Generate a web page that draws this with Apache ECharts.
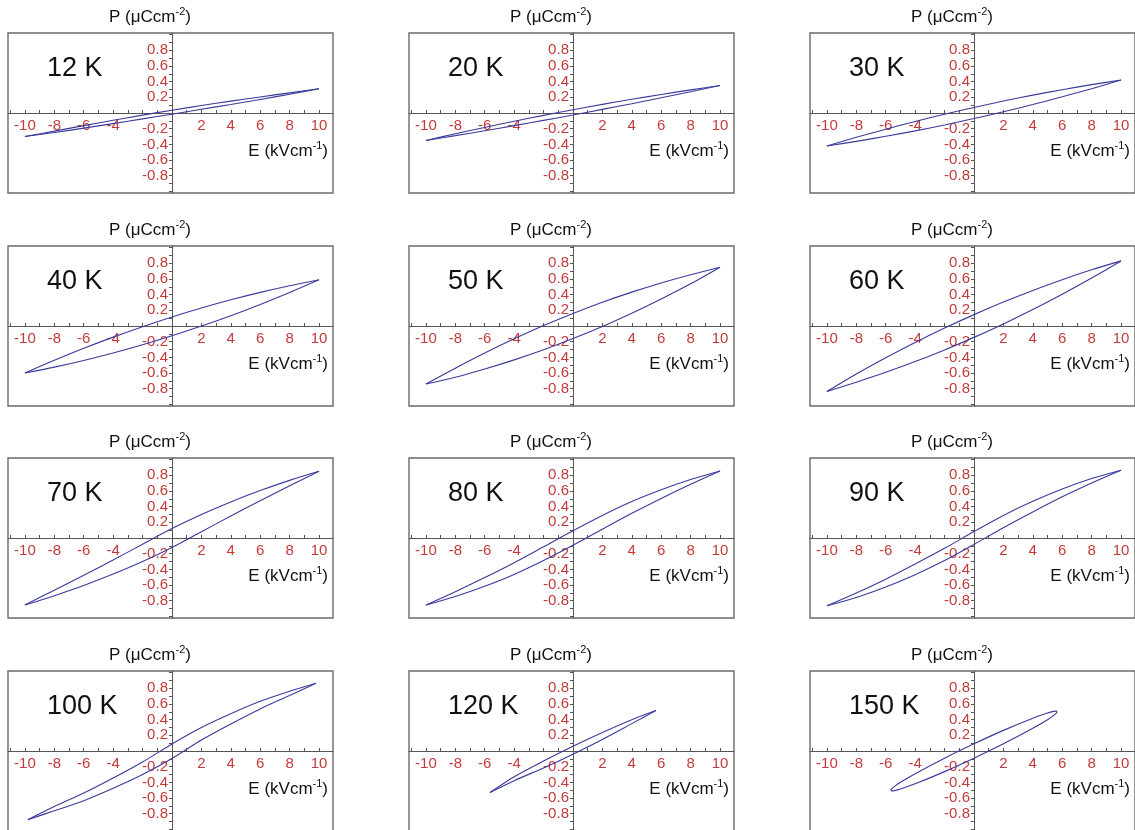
<!DOCTYPE html>
<html>
<head>
<meta charset="utf-8">
<title>P–E hysteresis loops</title>
<script src="https://cdn.jsdelivr.net/npm/echarts@6/dist/echarts.min.js"></script>
<style>
  html, body { margin: 0; padding: 0; background: #ffffff; }
  #chart { width: 1135px; height: 830px; }
</style>
</head>
<body>
<div id="chart"></div>
<script>
// Panel captions (temperature of each P–E measurement)
const temps = ['12 K', '20 K', '30 K', '40 K', '50 K', '60 K',
               '70 K', '80 K', '90 K', '100 K', '120 K', '150 K'];

// Tick labels and tick positions of the field (E) and polarization (P) axes
const eLabels = [-10, -8, -6, -4, 2, 4, 6, 8, 10];
const pLabels = [-0.8, -0.6, -0.4, -0.2, 0.2, 0.4, 0.6, 0.8];
const eTicks = [-11, -10, -9, -8, -7, -6, -5, -4, -3, -2, -1, 1, 2, 3, 4, 5, 6, 7, 8, 9, 10];
const pTicks = [-1.0, -0.9, -0.8, -0.7, -0.6, -0.5, -0.4, -0.3, -0.2, -0.1,
                0.1, 0.2, 0.3, 0.4, 0.5, 0.6, 0.7, 0.8, 0.9, 1.0];

// Loop branches as [E (kV/cm), P (uC/cm2)] pairs.
// "Down" = field swept from +Emax to -Emax, "Up" = from -Emax to +Emax.
const k12Down = [[10,0.31],[8,0.257],[6,0.205],[4,0.151],[2,0.095],[0,0.035],[-2,-0.027],[-4,-0.093],[-6,-0.161],[-8,-0.231],[-10,-0.30]];
const k12Up   = [[-10,-0.30],[-8,-0.249],[-6,-0.193],[-4,-0.135],[-2,-0.075],[0,-0.015],[2,0.047],[4,0.109],[6,0.173],[8,0.239],[10,0.31]];

const k20Down = [[10,0.35],[8,0.295],[6,0.236],[4,0.175],[2,0.11],[0,0.042],[-2,-0.03],[-4,-0.105],[-6,-0.184],[-8,-0.265],[-10,-0.35]];
const k20Up   = [[-10,-0.35],[-8,-0.289],[-6,-0.226],[-4,-0.161],[-2,-0.094],[0,-0.026],[2,0.046],[4,0.119],[6,0.194],[8,0.271],[10,0.35]];

const k30Down = [[10,0.42],[8,0.362],[6,0.297],[4,0.228],[2,0.152],[0,0.071],[-2,-0.016],[-4,-0.108],[-6,-0.207],[-8,-0.31],[-10,-0.42]];
const k30Up   = [[-10,-0.42],[-8,-0.362],[-6,-0.297],[-4,-0.228],[-2,-0.152],[0,-0.071],[2,0.016],[4,0.108],[6,0.207],[8,0.31],[10,0.42]];

const k40Down = [[10,0.59],[8,0.514],[6,0.429],[4,0.334],[2,0.229],[0,0.115],[-2,-0.009],[-4,-0.142],[-6,-0.285],[-8,-0.438],[-10,-0.60]];
const k40Up   = [[-10,-0.60],[-8,-0.524],[-6,-0.439],[-4,-0.344],[-2,-0.239],[0,-0.125],[2,-0.001],[4,0.132],[6,0.275],[8,0.428],[10,0.59]];

const k50Down = [[10,0.75],[8,0.654],[6,0.549],[4,0.432],[2,0.303],[0,0.16],[-2,0.005],[-4,-0.164],[-6,-0.345],[-8,-0.538],[-10,-0.74]];
const k50Up   = [[-10,-0.74],[-8,-0.654],[-6,-0.549],[-4,-0.432],[-2,-0.303],[0,-0.16],[2,-0.005],[4,0.164],[6,0.345],[8,0.538],[10,0.75]];

const k60Down = [[10,0.83],[8,0.716],[6,0.591],[4,0.454],[2,0.305],[0,0.145],[-2,-0.027],[-4,-0.21],[-6,-0.405],[-8,-0.612],[-10,-0.835]];
const k60Up   = [[-10,-0.835],[-8,-0.716],[-6,-0.591],[-4,-0.454],[-2,-0.305],[0,-0.145],[2,0.027],[4,0.21],[6,0.405],[8,0.612],[10,0.83]];

const k70Down = [[10,0.85],[8,0.735],[6,0.605],[4,0.46],[2,0.30],[0,0.12],[-2,-0.08],[-4,-0.28],[-6,-0.475],[-8,-0.665],[-10,-0.855]];
const k70Up   = [[-10,-0.855],[-8,-0.735],[-6,-0.605],[-4,-0.46],[-2,-0.30],[0,-0.12],[2,0.08],[4,0.28],[6,0.475],[8,0.665],[10,0.85]];

const k80Down = [[10,0.855],[8,0.745],[6,0.615],[4,0.465],[2,0.288],[0,0.093],[-2,-0.112],[-4,-0.315],[-6,-0.505],[-8,-0.685],[-10,-0.855]];
const k80Up   = [[-10,-0.855],[-8,-0.745],[-6,-0.615],[-4,-0.465],[-2,-0.288],[0,-0.093],[2,0.112],[4,0.315],[6,0.505],[8,0.685],[10,0.855]];

const k90Down = [[10,0.865],[8,0.758],[6,0.625],[4,0.468],[2,0.288],[0,0.082],[-2,-0.132],[-4,-0.332],[-6,-0.525],[-8,-0.702],[-10,-0.865]];
const k90Up   = [[-10,-0.865],[-8,-0.758],[-6,-0.625],[-4,-0.468],[-2,-0.288],[0,-0.082],[2,0.132],[4,0.332],[6,0.525],[8,0.702],[10,0.865]];

const k100Down = [[9.8,0.865],[8,0.762],[6,0.633],[4,0.475],[2,0.30],[0,0.09],[-2,-0.14],[-4,-0.345],[-6,-0.537],[-8,-0.708],[-9.8,-0.875]];
const k100Up   = [[-9.8,-0.875],[-8,-0.762],[-6,-0.633],[-4,-0.475],[-2,-0.30],[0,-0.095],[2,0.14],[4,0.345],[6,0.537],[8,0.708],[9.8,0.865]];

const k120Down = [[5.64,0.515],[4,0.399],[2,0.236],[0,0.06],[-2,-0.128],[-4,-0.329],[-5.64,-0.53]];
const k120Up   = [[-5.64,-0.53],[-4,-0.379],[-2,-0.216],[0,-0.04],[2,0.148],[4,0.349],[5.64,0.515]];

const k150Down = [[5.65,0.50],[5.6,0.508],[5.4,0.505],[5,0.485],[4,0.419],[2,0.263],[0,0.092],[-2,-0.091],[-4,-0.289],[-5,-0.399],[-5.4,-0.451],[-5.6,-0.484],[-5.65,-0.50]];
const k150Up   = [[-5.65,-0.50],[-5.6,-0.508],[-5.4,-0.505],[-5,-0.485],[-4,-0.419],[-2,-0.263],[0,-0.092],[2,0.091],[4,0.289],[5,0.399],[5.4,0.451],[5.6,0.484],[5.65,0.50]];

const branches = [
  [k12Down, k12Up], [k20Down, k20Up], [k30Down, k30Up],
  [k40Down, k40Up], [k50Down, k50Up], [k60Down, k60Up],
  [k70Down, k70Up], [k80Down, k80Up], [k90Down, k90Up],
  [k100Down, k100Up], [k120Down, k120Up], [k150Down, k150Up]
];

// Panel layout (pixels)
const COL_LEFT = [8, 409, 810];
const ROW_TOP = [33, 246, 458, 671];
const BOX_W = 325, BOX_H = 160;
const E_MIN = -11.15, E_MAX = 10.95, P_MIN = -1.02, P_MAX = 1.02;

const FONT = '"Liberation Sans", Arial, Helvetica, sans-serif';
const TICK_RED = '#c43a3a';
const LOOP_BLUE = '#3a3a9c';
const AXIS_GREY = '#555555';

// pixel distance from the box's left edge to E = 0, and from its bottom edge to P = 0
const ZERO_DX = BOX_W * (0 - E_MIN) / (E_MAX - E_MIN);
const ZERO_DY = BOX_H * (0 - P_MIN) / (P_MAX - P_MIN);

const grids = [], xAxes = [], yAxes = [], series = [], graphics = [];

temps.forEach((label, i) => {
  const col = i % 3, row = Math.floor(i / 3);
  const left = COL_LEFT[col], top = ROW_TOP[row];

  grids.push({
    left: left, top: top, width: BOX_W, height: BOX_H,
    show: true, borderColor: '#6a6a6a', borderWidth: 1.4,
    backgroundColor: 'transparent', containLabel: false,
    outerBoundsMode: 'none'
  });

  // axes crossing at the origin: moved inward from the box edges
  xAxes.push({
    type: 'value', gridIndex: i, min: E_MIN, max: E_MAX,
    position: 'bottom', offset: -ZERO_DY,
    axisLine: { onZero: false, lineStyle: { color: AXIS_GREY, width: 1 } },
    axisTick: { show: true, inside: true, length: 3, customValues: eTicks,
                lineStyle: { color: AXIS_GREY, width: 1 } },
    axisLabel: { customValues: eLabels, margin: 5, color: TICK_RED,
                 fontSize: 15, fontFamily: FONT },
    splitLine: { show: false }
  });

  yAxes.push({
    type: 'value', gridIndex: i, min: P_MIN, max: P_MAX,
    position: 'left', offset: -ZERO_DX,
    axisLine: { onZero: false, lineStyle: { color: AXIS_GREY, width: 1 } },
    axisTick: { show: true, length: 3, customValues: pTicks,
                lineStyle: { color: AXIS_GREY, width: 1 } },
    axisLabel: { customValues: pLabels, margin: 4, color: TICK_RED,
                 fontSize: 15, fontFamily: FONT },
    splitLine: { show: false }
  });

  branches[i].forEach((branch) => {
    series.push({
      type: 'line', xAxisIndex: i, yAxisIndex: i, data: branch,
      smooth: 0.3, showSymbol: false, animation: false,
      lineStyle: { color: LOOP_BLUE, width: 1.1 }
    });
  });

  const zeroX = left + ZERO_DX;
  const zeroY = top + BOX_H - ZERO_DY;

  // polarization axis title above the box
  graphics.push({
    type: 'text', x: zeroX - 22, y: top - 16,
    style: {
      text: '{m|P (μCcm}{s|-2}{m|)}',
      align: 'center', verticalAlign: 'middle',
      rich: {
        m: { fontSize: 17, fontFamily: FONT, fill: '#111', lineHeight: 20 },
        s: { fontSize: 11, fontFamily: FONT, fill: '#111', lineHeight: 20, padding: [0, 0, 10, 0] }
      }
    }
  });

  // field axis title, right side under the E axis
  graphics.push({
    type: 'text', x: left + BOX_W - 5, y: zeroY + 38,
    style: {
      text: '{m|E (kVcm}{s|-1}{m|)}',
      align: 'right', verticalAlign: 'middle',
      rich: {
        m: { fontSize: 17, fontFamily: FONT, fill: '#111', lineHeight: 20 },
        s: { fontSize: 11, fontFamily: FONT, fill: '#111', lineHeight: 20, padding: [0, 0, 10, 0] }
      }
    }
  });

  // temperature caption
  graphics.push({
    type: 'text', x: left + 39, y: top + 36,
    style: {
      text: label, align: 'left', verticalAlign: 'middle',
      fontSize: 27, fontFamily: FONT, fill: '#111'
    }
  });
});

const chart = echarts.init(document.getElementById('chart'), null, { renderer: 'canvas' });
chart.setOption({
  animation: false,
  backgroundColor: '#ffffff',
  grid: grids,
  xAxis: xAxes,
  yAxis: yAxes,
  series: series,
  graphic: graphics
});
</script>
</body>
</html>
